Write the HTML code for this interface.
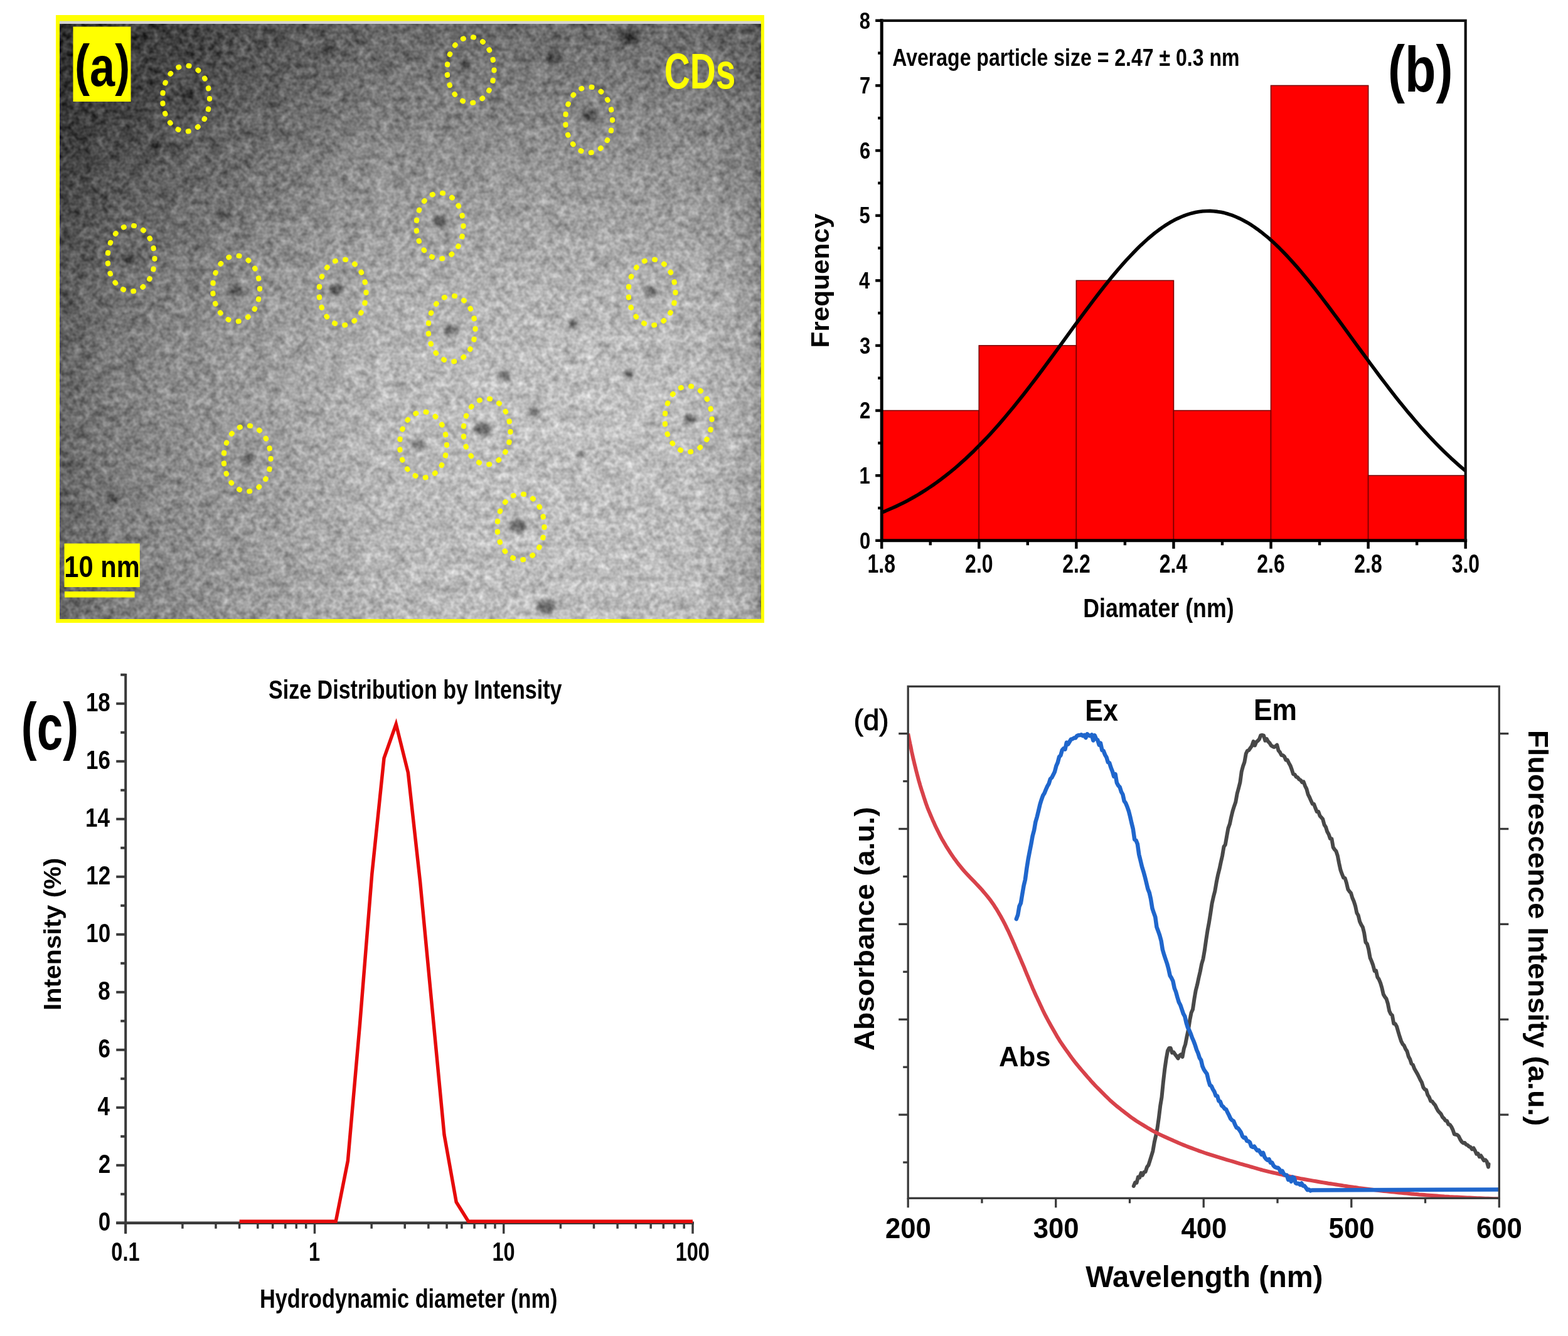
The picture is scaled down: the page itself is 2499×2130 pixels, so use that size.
<!DOCTYPE html>
<html lang="en">
<head>
<meta charset="utf-8">
<title>Characterization of CDs</title>
<style>
html,body{margin:0;padding:0;background:#fff;}
body{width:2499px;height:2130px;overflow:hidden;}
svg{display:block;font-family:"Liberation Sans",sans-serif;}
</style>
</head>
<body>
<svg width="2499" height="2130" viewBox="0 0 2499 2130">
<rect width="2499" height="2130" fill="#ffffff"/>
<defs>
<linearGradient id="tg1" x1="0" y1="0" x2="1" y2="0">
 <stop offset="0" stop-color="#646464"/>
 <stop offset="0.06" stop-color="#7c7c7c"/>
 <stop offset="0.14" stop-color="#8c8c8c"/>
 <stop offset="0.24" stop-color="#9c9c9c"/>
 <stop offset="0.32" stop-color="#a6a6a6"/>
 <stop offset="0.455" stop-color="#bcbcbc"/>
 <stop offset="0.56" stop-color="#c2c2c2"/>
 <stop offset="0.67" stop-color="#c5c5c5"/>
 <stop offset="0.78" stop-color="#c6c6c6"/>
 <stop offset="0.90" stop-color="#c2c2c2"/>
 <stop offset="0.985" stop-color="#aeaeae"/>
 <stop offset="1" stop-color="#949494"/>
</linearGradient>
<linearGradient id="tg3" x1="0" y1="0" x2="0" y2="1">
 <stop offset="0" stop-color="#000" stop-opacity="0.45"/>
 <stop offset="0.06" stop-color="#000" stop-opacity="0.39"/>
 <stop offset="0.15" stop-color="#000" stop-opacity="0.30"/>
 <stop offset="0.255" stop-color="#000" stop-opacity="0.21"/>
 <stop offset="0.45" stop-color="#000" stop-opacity="0.06"/>
 <stop offset="0.6" stop-color="#000" stop-opacity="0"/>
 <stop offset="1" stop-color="#000" stop-opacity="0.01"/>
</linearGradient>
<radialGradient id="tg4" gradientUnits="userSpaceOnUse" cx="0" cy="0" r="1" gradientTransform="translate(95,38) scale(520,540)">
 <stop offset="0" stop-color="#000" stop-opacity="0.27"/>
 <stop offset="0.35" stop-color="#000" stop-opacity="0.21"/>
 <stop offset="0.6" stop-color="#000" stop-opacity="0.10"/>
 <stop offset="1" stop-color="#000" stop-opacity="0"/>
</radialGradient>
<filter id="noise" x="0" y="0" width="100%" height="100%" color-interpolation-filters="sRGB">
 <feTurbulence type="fractalNoise" baseFrequency="0.11" numOctaves="2" seed="7" result="n1"/>
 <feColorMatrix in="n1" type="matrix" values="1 0 0 0 0  1 0 0 0 0  1 0 0 0 0  0 0 0 0 1" result="g1"/>
 <feTurbulence type="fractalNoise" baseFrequency="0.04" numOctaves="1" seed="11" result="n2"/>
 <feColorMatrix in="n2" type="matrix" values="1 0 0 0 0  1 0 0 0 0  1 0 0 0 0  0 0 0 0 1" result="g2"/>
 <feComposite in="g1" in2="g2" operator="arithmetic" k1="0" k2="0.85" k3="0.4" k4="-0.125" result="g"/>
 <feComposite in="SourceGraphic" in2="g" operator="arithmetic" k1="0" k2="0.97" k3="0.46" k4="-0.23"/>
</filter>
<filter id="blur3" x="-50%" y="-50%" width="200%" height="200%"><feGaussianBlur stdDeviation="3"/></filter>
<clipPath id="clipb"><rect x="1405" y="33" width="931" height="829"/></clipPath>
<clipPath id="clipd"><rect x="1447" y="1094" width="942.5" height="817"/></clipPath>
</defs>
<rect x="89" y="24" width="1129" height="969" fill="#ffff00"/>
<rect x="95" y="33.5" width="1117.5" height="5" fill="#d4d4d4"/>
<g filter="url(#noise)">
<rect x="95" y="38" width="1117.5" height="949" fill="url(#tg1)"/>
<rect x="95" y="38" width="1117.5" height="949" fill="url(#tg3)"/>
<rect x="95" y="38" width="1117.5" height="949" fill="url(#tg4)"/>
<g filter="url(#blur3)">
<ellipse cx="296" cy="150" rx="11.7" ry="9" fill="#000" fill-opacity="0.42"/>
<ellipse cx="742" cy="104" rx="9.1" ry="7" fill="#000" fill-opacity="0.42"/>
<ellipse cx="940" cy="186" rx="13" ry="10" fill="#000" fill-opacity="0.42"/>
<ellipse cx="703" cy="352" rx="11.7" ry="9" fill="#000" fill-opacity="0.42"/>
<ellipse cx="207" cy="413" rx="9.1" ry="7" fill="#000" fill-opacity="0.42"/>
<ellipse cx="376" cy="463" rx="11.7" ry="9" fill="#000" fill-opacity="0.42"/>
<ellipse cx="536" cy="462" rx="11.7" ry="9" fill="#000" fill-opacity="0.42"/>
<ellipse cx="718" cy="525" rx="11.7" ry="9" fill="#000" fill-opacity="0.42"/>
<ellipse cx="1037" cy="465" rx="10.4" ry="8" fill="#000" fill-opacity="0.42"/>
<ellipse cx="1100" cy="668" rx="10.4" ry="8" fill="#000" fill-opacity="0.42"/>
<ellipse cx="770" cy="684" rx="13" ry="10" fill="#000" fill-opacity="0.42"/>
<ellipse cx="667" cy="710" rx="10.4" ry="8" fill="#000" fill-opacity="0.42"/>
<ellipse cx="397" cy="731" rx="10.4" ry="8" fill="#000" fill-opacity="0.42"/>
<ellipse cx="825" cy="838" rx="14.3" ry="11" fill="#000" fill-opacity="0.42"/>
<ellipse cx="1003" cy="58" rx="15.6" ry="12" fill="#000" fill-opacity="0.42"/>
<ellipse cx="884" cy="92" rx="13" ry="10" fill="#000" fill-opacity="0.42"/>
<ellipse cx="360" cy="345" rx="10.4" ry="8" fill="#000" fill-opacity="0.42"/>
<ellipse cx="805" cy="600" rx="10.4" ry="8" fill="#000" fill-opacity="0.42"/>
<ellipse cx="852" cy="656" rx="10.4" ry="8" fill="#000" fill-opacity="0.42"/>
<ellipse cx="870" cy="967" rx="14.3" ry="11" fill="#000" fill-opacity="0.42"/>
<ellipse cx="1002" cy="596" rx="9.1" ry="7" fill="#000" fill-opacity="0.42"/>
<ellipse cx="925" cy="725" rx="6.5" ry="5" fill="#000" fill-opacity="0.42"/>
<ellipse cx="913" cy="516" rx="7.8" ry="6" fill="#000" fill-opacity="0.42"/>
<ellipse cx="178" cy="795" rx="10.4" ry="8" fill="#000" fill-opacity="0.42"/>
<ellipse cx="245" cy="232" rx="9.1" ry="7" fill="#000" fill-opacity="0.42"/>
<ellipse cx="520" cy="80" rx="9.1" ry="7" fill="#000" fill-opacity="0.42"/>
</g>
</g>
<ellipse cx="296.5" cy="157" rx="37.5" ry="52.5" fill="none" stroke="#ffff00" stroke-width="8.2" stroke-linecap="round" pathLength="170" stroke-dasharray="0.5 9.5"/>
<ellipse cx="750" cy="111.5" rx="37.5" ry="52.5" fill="none" stroke="#ffff00" stroke-width="8.2" stroke-linecap="round" pathLength="170" stroke-dasharray="0.5 9.5"/>
<ellipse cx="938.5" cy="191" rx="37.5" ry="52.5" fill="none" stroke="#ffff00" stroke-width="8.2" stroke-linecap="round" pathLength="170" stroke-dasharray="0.5 9.5"/>
<ellipse cx="701" cy="360" rx="37.5" ry="52.5" fill="none" stroke="#ffff00" stroke-width="8.2" stroke-linecap="round" pathLength="170" stroke-dasharray="0.5 9.5"/>
<ellipse cx="209" cy="412" rx="37.5" ry="52.5" fill="none" stroke="#ffff00" stroke-width="8.2" stroke-linecap="round" pathLength="170" stroke-dasharray="0.5 9.5"/>
<ellipse cx="376.5" cy="460" rx="37.5" ry="52.5" fill="none" stroke="#ffff00" stroke-width="8.2" stroke-linecap="round" pathLength="170" stroke-dasharray="0.5 9.5"/>
<ellipse cx="546" cy="466" rx="37.5" ry="52.5" fill="none" stroke="#ffff00" stroke-width="8.2" stroke-linecap="round" pathLength="170" stroke-dasharray="0.5 9.5"/>
<ellipse cx="720" cy="524" rx="37.5" ry="52.5" fill="none" stroke="#ffff00" stroke-width="8.2" stroke-linecap="round" pathLength="170" stroke-dasharray="0.5 9.5"/>
<ellipse cx="1039" cy="466" rx="37.5" ry="52.5" fill="none" stroke="#ffff00" stroke-width="8.2" stroke-linecap="round" pathLength="170" stroke-dasharray="0.5 9.5"/>
<ellipse cx="1097" cy="668" rx="37.5" ry="52.5" fill="none" stroke="#ffff00" stroke-width="8.2" stroke-linecap="round" pathLength="170" stroke-dasharray="0.5 9.5"/>
<ellipse cx="776" cy="688" rx="37.5" ry="52.5" fill="none" stroke="#ffff00" stroke-width="8.2" stroke-linecap="round" pathLength="170" stroke-dasharray="0.5 9.5"/>
<ellipse cx="674.5" cy="709" rx="37.5" ry="52.5" fill="none" stroke="#ffff00" stroke-width="8.2" stroke-linecap="round" pathLength="170" stroke-dasharray="0.5 9.5"/>
<ellipse cx="394" cy="731" rx="37.5" ry="52.5" fill="none" stroke="#ffff00" stroke-width="8.2" stroke-linecap="round" pathLength="170" stroke-dasharray="0.5 9.5"/>
<ellipse cx="830" cy="840" rx="37.5" ry="52.5" fill="none" stroke="#ffff00" stroke-width="8.2" stroke-linecap="round" pathLength="170" stroke-dasharray="0.5 9.5"/>
<rect x="116.5" y="42.5" width="92" height="119.5" fill="#ffff00"/>
<text transform="matrix(0.7209 0.0000 0.0000 0.8984 119.0956 133.6337)" font-size="100" font-weight="bold" fill="#000">(<tspan dy="3.6">a</tspan><tspan dy="-3.6">)</tspan></text>
<text transform="matrix(0.5677 0.0000 0.0000 0.8028 1058.7292 141.1972)" font-size="100" font-weight="bold" fill="#ffff00">CDs</text>
<rect x="102.5" y="866.5" width="120.3" height="69.5" fill="#ffff00"/>
<text transform="matrix(0.4166 0.0000 0.0000 0.4901 102.3004 920.2099)" font-size="100" font-weight="bold" fill="#000">10 nm</text>
<rect x="103" y="943" width="111.5" height="9.5" fill="#ffff00"/>
<rect x="1405.20" y="654.55" width="155.08" height="207.25" fill="#ff0000" stroke="#7a0000" stroke-width="1.6"/>
<rect x="1560.28" y="550.92" width="155.08" height="310.88" fill="#ff0000" stroke="#7a0000" stroke-width="1.6"/>
<rect x="1715.37" y="447.30" width="155.08" height="414.50" fill="#ff0000" stroke="#7a0000" stroke-width="1.6"/>
<rect x="1870.45" y="654.55" width="155.08" height="207.25" fill="#ff0000" stroke="#7a0000" stroke-width="1.6"/>
<rect x="2025.53" y="136.42" width="155.08" height="725.38" fill="#ff0000" stroke="#7a0000" stroke-width="1.6"/>
<rect x="2180.62" y="758.17" width="155.08" height="103.62" fill="#ff0000" stroke="#7a0000" stroke-width="1.6"/>
<polyline points="1405.2,817.1 1411.0,814.8 1416.8,812.3 1422.6,809.8 1428.5,807.1 1434.3,804.3 1440.1,801.4 1445.9,798.4 1451.7,795.3 1457.5,792.0 1463.4,788.6 1469.2,785.0 1475.0,781.3 1480.8,777.5 1486.6,773.6 1492.4,769.5 1498.2,765.2 1504.1,760.8 1509.9,756.3 1515.7,751.6 1521.5,746.8 1527.3,741.8 1533.1,736.6 1539.0,731.4 1544.8,725.9 1550.6,720.4 1556.4,714.6 1562.2,708.8 1568.0,702.7 1573.9,696.6 1579.7,690.3 1585.5,683.9 1591.3,677.3 1597.1,670.6 1602.9,663.8 1608.7,656.8 1614.6,649.8 1620.4,642.6 1626.2,635.3 1632.0,627.9 1637.8,620.5 1643.6,612.9 1649.5,605.3 1655.3,597.5 1661.1,589.8 1666.9,581.9 1672.7,574.0 1678.5,566.1 1684.4,558.1 1690.2,550.2 1696.0,542.2 1701.8,534.2 1707.6,526.2 1713.4,518.2 1719.2,510.3 1725.1,502.4 1730.9,494.6 1736.7,486.8 1742.5,479.1 1748.3,471.5 1754.1,464.0 1760.0,456.5 1765.8,449.3 1771.6,442.1 1777.4,435.1 1783.2,428.3 1789.0,421.6 1794.8,415.1 1800.7,408.8 1806.5,402.7 1812.3,396.8 1818.1,391.1 1823.9,385.7 1829.7,380.5 1835.6,375.5 1841.4,370.8 1847.2,366.4 1853.0,362.3 1858.8,358.4 1864.6,354.8 1870.4,351.6 1876.3,348.6 1882.1,346.0 1887.9,343.6 1893.7,341.6 1899.5,339.9 1905.3,338.6 1911.2,337.5 1917.0,336.8 1922.8,336.5 1928.6,336.4 1934.4,336.7 1940.2,337.4 1946.1,338.3 1951.9,339.6 1957.7,341.3 1963.5,343.2 1969.3,345.5 1975.1,348.1 1980.9,351.0 1986.8,354.2 1992.6,357.7 1998.4,361.5 2004.2,365.6 2010.0,369.9 2015.8,374.6 2021.7,379.4 2027.5,384.6 2033.3,390.0 2039.1,395.6 2044.9,401.5 2050.7,407.5 2056.6,413.8 2062.4,420.3 2068.2,426.9 2074.0,433.7 2079.8,440.7 2085.6,447.8 2091.4,455.1 2097.3,462.5 2103.1,470.0 2108.9,477.6 2114.7,485.2 2120.5,493.0 2126.3,500.8 2132.2,508.7 2138.0,516.6 2143.8,524.6 2149.6,532.6 2155.4,540.6 2161.2,548.6 2167.0,556.5 2172.9,564.5 2178.7,572.4 2184.5,580.3 2190.3,588.2 2196.1,596.0 2201.9,603.7 2207.8,611.4 2213.6,619.0 2219.4,626.5 2225.2,633.9 2231.0,641.2 2236.8,648.3 2242.6,655.4 2248.5,662.4 2254.3,669.2 2260.1,676.0 2265.9,682.6 2271.7,689.0 2277.5,695.3 2283.4,701.5 2289.2,707.6 2295.0,713.5 2300.8,719.2 2306.6,724.8 2312.4,730.3 2318.3,735.6 2324.1,740.8 2329.9,745.8 2335.7,750.6" fill="none" stroke="#000" stroke-width="5.6" stroke-linejoin="round" clip-path="url(#clipb)"/>
<polyline points="1405.20,32.80 1405.20,861.80 2335.70,861.80" fill="none" stroke="#000" stroke-width="5" stroke-linecap="square"/>
<polyline points="1405.20,32.80 2335.70,32.80 2335.70,861.80" fill="none" stroke="#111" stroke-width="4.2" stroke-linecap="square"/>
<line x1="1395.2" x2="1405.2" y1="861.80" y2="861.80" stroke="#000" stroke-width="4.4"/>
<line x1="1399.2" x2="1405.2" y1="809.99" y2="809.99" stroke="#000" stroke-width="4.4"/>
<text transform="matrix(0.3100 0.0000 0.0000 0.3720 1370.0350 874.6400)" font-size="100" font-weight="bold" fill="#000">0</text>
<line x1="1395.2" x2="1405.2" y1="758.17" y2="758.17" stroke="#000" stroke-width="4.4"/>
<line x1="1399.2" x2="1405.2" y1="706.36" y2="706.36" stroke="#000" stroke-width="4.4"/>
<text transform="matrix(0.3100 0.0000 0.0000 0.3720 1369.5700 770.6430)" font-size="100" font-weight="bold" fill="#000">1</text>
<line x1="1395.2" x2="1405.2" y1="654.55" y2="654.55" stroke="#000" stroke-width="4.4"/>
<line x1="1399.2" x2="1405.2" y1="602.74" y2="602.74" stroke="#000" stroke-width="4.4"/>
<text transform="matrix(0.3100 0.0000 0.0000 0.3720 1370.0350 667.3900)" font-size="100" font-weight="bold" fill="#000">2</text>
<line x1="1395.2" x2="1405.2" y1="550.92" y2="550.92" stroke="#000" stroke-width="4.4"/>
<line x1="1399.2" x2="1405.2" y1="499.11" y2="499.11" stroke="#000" stroke-width="4.4"/>
<text transform="matrix(0.3100 0.0000 0.0000 0.3720 1369.8800 563.7650)" font-size="100" font-weight="bold" fill="#000">3</text>
<line x1="1395.2" x2="1405.2" y1="447.30" y2="447.30" stroke="#000" stroke-width="4.4"/>
<line x1="1399.2" x2="1405.2" y1="395.49" y2="395.49" stroke="#000" stroke-width="4.4"/>
<text transform="matrix(0.3100 0.0000 0.0000 0.3720 1368.9500 459.7680)" font-size="100" font-weight="bold" fill="#000">4</text>
<line x1="1395.2" x2="1405.2" y1="343.67" y2="343.67" stroke="#000" stroke-width="4.4"/>
<line x1="1399.2" x2="1405.2" y1="291.86" y2="291.86" stroke="#000" stroke-width="4.4"/>
<text transform="matrix(0.3100 0.0000 0.0000 0.3720 1369.5700 356.1430)" font-size="100" font-weight="bold" fill="#000">5</text>
<line x1="1395.2" x2="1405.2" y1="240.05" y2="240.05" stroke="#000" stroke-width="4.4"/>
<line x1="1399.2" x2="1405.2" y1="188.24" y2="188.24" stroke="#000" stroke-width="4.4"/>
<text transform="matrix(0.3100 0.0000 0.0000 0.3720 1369.8800 252.8900)" font-size="100" font-weight="bold" fill="#000">6</text>
<line x1="1395.2" x2="1405.2" y1="136.42" y2="136.42" stroke="#000" stroke-width="4.4"/>
<line x1="1399.2" x2="1405.2" y1="84.61" y2="84.61" stroke="#000" stroke-width="4.4"/>
<text transform="matrix(0.3100 0.0000 0.0000 0.3720 1370.0350 148.8930)" font-size="100" font-weight="bold" fill="#000">7</text>
<line x1="1395.2" x2="1405.2" y1="32.80" y2="32.80" stroke="#000" stroke-width="4.4"/>
<text transform="matrix(0.3100 0.0000 0.0000 0.3720 1369.7250 45.6400)" font-size="100" font-weight="bold" fill="#000">8</text>
<line y1="861.8" y2="874.8" x1="1405.20" x2="1405.20" stroke="#000" stroke-width="4.4"/>
<line y1="861.8" y2="869.3" x1="1482.74" x2="1482.74" stroke="#000" stroke-width="4.4"/>
<text transform="matrix(0.3200 0.0000 0.0000 0.4210 1382.4800 912.9700)" font-size="100" font-weight="bold" fill="#000">1.8</text>
<line y1="861.8" y2="874.8" x1="1560.28" x2="1560.28" stroke="#000" stroke-width="4.4"/>
<line y1="861.8" y2="869.3" x1="1637.83" x2="1637.83" stroke="#000" stroke-width="4.4"/>
<text transform="matrix(0.3200 0.0000 0.0000 0.4210 1538.1233 912.9700)" font-size="100" font-weight="bold" fill="#000">2.0</text>
<line y1="861.8" y2="874.8" x1="1715.37" x2="1715.37" stroke="#000" stroke-width="4.4"/>
<line y1="861.8" y2="869.3" x1="1792.91" x2="1792.91" stroke="#000" stroke-width="4.4"/>
<text transform="matrix(0.3200 0.0000 0.0000 0.4210 1693.2067 912.9700)" font-size="100" font-weight="bold" fill="#000">2.2</text>
<line y1="861.8" y2="874.8" x1="1870.45" x2="1870.45" stroke="#000" stroke-width="4.4"/>
<line y1="861.8" y2="869.3" x1="1947.99" x2="1947.99" stroke="#000" stroke-width="4.4"/>
<text transform="matrix(0.3200 0.0000 0.0000 0.4210 1847.7300 912.9700)" font-size="100" font-weight="bold" fill="#000">2.4</text>
<line y1="861.8" y2="874.8" x1="2025.53" x2="2025.53" stroke="#000" stroke-width="4.4"/>
<line y1="861.8" y2="869.3" x1="2103.07" x2="2103.07" stroke="#000" stroke-width="4.4"/>
<text transform="matrix(0.3200 0.0000 0.0000 0.4210 2003.2933 912.9700)" font-size="100" font-weight="bold" fill="#000">2.6</text>
<line y1="861.8" y2="874.8" x1="2180.62" x2="2180.62" stroke="#000" stroke-width="4.4"/>
<line y1="861.8" y2="869.3" x1="2258.16" x2="2258.16" stroke="#000" stroke-width="4.4"/>
<text transform="matrix(0.3200 0.0000 0.0000 0.4210 2158.2967 912.9700)" font-size="100" font-weight="bold" fill="#000">2.8</text>
<line y1="861.8" y2="874.8" x1="2335.70" x2="2335.70" stroke="#000" stroke-width="4.4"/>
<text transform="matrix(0.3200 0.0000 0.0000 0.4210 2313.7000 912.9700)" font-size="100" font-weight="bold" fill="#000">3.0</text>
<text transform="matrix(0.3205 0.0000 0.0000 0.3904 1422.1989 104.8021)" font-size="100" font-weight="bold" fill="#000">Average particle size = 2.47 ± 0.3 nm</text>
<text transform="matrix(0.8102 0.0000 0.0000 1.0214 2211.9492 143.5508)" font-size="100" font-weight="bold" fill="#000">(<tspan dy="2.6">b</tspan><tspan dy="-2.6">)</tspan></text>
<text transform="matrix(0.0000 -0.4233 0.4000 0.0000 1320.6000 554.5513)" font-size="100" font-weight="bold" fill="#000">Frequency</text>
<text transform="matrix(0.3578 0.0000 0.0000 0.4332 1726.1744 984.4037)" font-size="100" font-weight="bold" fill="#000">Diamater (nm)</text>
<line x1="200.2" x2="200.2" y1="1074.0" y2="1966.8" stroke="#3a3a3a" stroke-width="4"/>
<line x1="185.2" x2="1106.0" y1="1949.8" y2="1949.8" stroke="#3a3a3a" stroke-width="4.5"/>
<line x1="185.2" x2="200.2" y1="1949.80" y2="1949.80" stroke="#3a3a3a" stroke-width="4"/>
<text transform="matrix(0.3500 0.0000 0.0000 0.4180 156.6750 1962.0600)" font-size="100" font-weight="bold" fill="#000">0</text>
<line x1="192.2" x2="200.2" y1="1903.80" y2="1903.80" stroke="#3a3a3a" stroke-width="4"/>
<line x1="185.2" x2="200.2" y1="1857.80" y2="1857.80" stroke="#3a3a3a" stroke-width="4"/>
<text transform="matrix(0.3500 0.0000 0.0000 0.4180 156.6750 1870.0600)" font-size="100" font-weight="bold" fill="#000">2</text>
<line x1="192.2" x2="200.2" y1="1811.80" y2="1811.80" stroke="#3a3a3a" stroke-width="4"/>
<line x1="185.2" x2="200.2" y1="1765.80" y2="1765.80" stroke="#3a3a3a" stroke-width="4"/>
<text transform="matrix(0.3500 0.0000 0.0000 0.4180 155.4500 1777.6420)" font-size="100" font-weight="bold" fill="#000">4</text>
<line x1="192.2" x2="200.2" y1="1719.80" y2="1719.80" stroke="#3a3a3a" stroke-width="4"/>
<line x1="185.2" x2="200.2" y1="1673.80" y2="1673.80" stroke="#3a3a3a" stroke-width="4"/>
<text transform="matrix(0.3500 0.0000 0.0000 0.4180 156.5000 1686.0600)" font-size="100" font-weight="bold" fill="#000">6</text>
<line x1="192.2" x2="200.2" y1="1627.80" y2="1627.80" stroke="#3a3a3a" stroke-width="4"/>
<line x1="185.2" x2="200.2" y1="1581.80" y2="1581.80" stroke="#3a3a3a" stroke-width="4"/>
<text transform="matrix(0.3500 0.0000 0.0000 0.4180 156.3250 1594.0600)" font-size="100" font-weight="bold" fill="#000">8</text>
<line x1="192.2" x2="200.2" y1="1535.80" y2="1535.80" stroke="#3a3a3a" stroke-width="4"/>
<line x1="185.2" x2="200.2" y1="1489.80" y2="1489.80" stroke="#3a3a3a" stroke-width="4"/>
<text transform="matrix(0.3500 0.0000 0.0000 0.4180 137.2500 1502.0600)" font-size="100" font-weight="bold" fill="#000">10</text>
<line x1="192.2" x2="200.2" y1="1443.80" y2="1443.80" stroke="#3a3a3a" stroke-width="4"/>
<line x1="185.2" x2="200.2" y1="1397.80" y2="1397.80" stroke="#3a3a3a" stroke-width="4"/>
<text transform="matrix(0.3500 0.0000 0.0000 0.4180 137.2500 1410.0600)" font-size="100" font-weight="bold" fill="#000">12</text>
<line x1="192.2" x2="200.2" y1="1351.80" y2="1351.80" stroke="#3a3a3a" stroke-width="4"/>
<line x1="185.2" x2="200.2" y1="1305.80" y2="1305.80" stroke="#3a3a3a" stroke-width="4"/>
<text transform="matrix(0.3500 0.0000 0.0000 0.4180 136.0250 1317.6420)" font-size="100" font-weight="bold" fill="#000">14</text>
<line x1="192.2" x2="200.2" y1="1259.80" y2="1259.80" stroke="#3a3a3a" stroke-width="4"/>
<line x1="185.2" x2="200.2" y1="1213.80" y2="1213.80" stroke="#3a3a3a" stroke-width="4"/>
<text transform="matrix(0.3500 0.0000 0.0000 0.4180 137.0750 1226.0600)" font-size="100" font-weight="bold" fill="#000">16</text>
<line x1="192.2" x2="200.2" y1="1167.80" y2="1167.80" stroke="#3a3a3a" stroke-width="4"/>
<line x1="185.2" x2="200.2" y1="1121.80" y2="1121.80" stroke="#3a3a3a" stroke-width="4"/>
<text transform="matrix(0.3500 0.0000 0.0000 0.4180 136.9000 1134.0600)" font-size="100" font-weight="bold" fill="#000">18</text>
<line x1="192.2" x2="200.2" y1="1075.80" y2="1075.80" stroke="#3a3a3a" stroke-width="4"/>
<line y1="1949.8" y2="1966.8" x1="200.20" x2="200.20" stroke="#3a3a3a" stroke-width="3.5"/>
<line y1="1949.8" y2="1958.8" x1="290.89" x2="290.89" stroke="#3a3a3a" stroke-width="3.5"/>
<line y1="1949.8" y2="1958.8" x1="343.94" x2="343.94" stroke="#3a3a3a" stroke-width="3.5"/>
<line y1="1949.8" y2="1958.8" x1="381.58" x2="381.58" stroke="#3a3a3a" stroke-width="3.5"/>
<line y1="1949.8" y2="1958.8" x1="410.78" x2="410.78" stroke="#3a3a3a" stroke-width="3.5"/>
<line y1="1949.8" y2="1958.8" x1="434.63" x2="434.63" stroke="#3a3a3a" stroke-width="3.5"/>
<line y1="1949.8" y2="1958.8" x1="454.80" x2="454.80" stroke="#3a3a3a" stroke-width="3.5"/>
<line y1="1949.8" y2="1958.8" x1="472.27" x2="472.27" stroke="#3a3a3a" stroke-width="3.5"/>
<line y1="1949.8" y2="1958.8" x1="487.68" x2="487.68" stroke="#3a3a3a" stroke-width="3.5"/>
<line y1="1949.8" y2="1966.8" x1="501.47" x2="501.47" stroke="#3a3a3a" stroke-width="3.5"/>
<line y1="1949.8" y2="1958.8" x1="592.16" x2="592.16" stroke="#3a3a3a" stroke-width="3.5"/>
<line y1="1949.8" y2="1958.8" x1="645.21" x2="645.21" stroke="#3a3a3a" stroke-width="3.5"/>
<line y1="1949.8" y2="1958.8" x1="682.85" x2="682.85" stroke="#3a3a3a" stroke-width="3.5"/>
<line y1="1949.8" y2="1958.8" x1="712.05" x2="712.05" stroke="#3a3a3a" stroke-width="3.5"/>
<line y1="1949.8" y2="1958.8" x1="735.90" x2="735.90" stroke="#3a3a3a" stroke-width="3.5"/>
<line y1="1949.8" y2="1958.8" x1="756.07" x2="756.07" stroke="#3a3a3a" stroke-width="3.5"/>
<line y1="1949.8" y2="1958.8" x1="773.54" x2="773.54" stroke="#3a3a3a" stroke-width="3.5"/>
<line y1="1949.8" y2="1958.8" x1="788.95" x2="788.95" stroke="#3a3a3a" stroke-width="3.5"/>
<line y1="1949.8" y2="1966.8" x1="802.74" x2="802.74" stroke="#3a3a3a" stroke-width="3.5"/>
<line y1="1949.8" y2="1958.8" x1="893.43" x2="893.43" stroke="#3a3a3a" stroke-width="3.5"/>
<line y1="1949.8" y2="1958.8" x1="946.48" x2="946.48" stroke="#3a3a3a" stroke-width="3.5"/>
<line y1="1949.8" y2="1958.8" x1="984.12" x2="984.12" stroke="#3a3a3a" stroke-width="3.5"/>
<line y1="1949.8" y2="1958.8" x1="1013.32" x2="1013.32" stroke="#3a3a3a" stroke-width="3.5"/>
<line y1="1949.8" y2="1958.8" x1="1037.17" x2="1037.17" stroke="#3a3a3a" stroke-width="3.5"/>
<line y1="1949.8" y2="1958.8" x1="1057.34" x2="1057.34" stroke="#3a3a3a" stroke-width="3.5"/>
<line y1="1949.8" y2="1958.8" x1="1074.81" x2="1074.81" stroke="#3a3a3a" stroke-width="3.5"/>
<line y1="1949.8" y2="1958.8" x1="1090.22" x2="1090.22" stroke="#3a3a3a" stroke-width="3.5"/>
<line y1="1949.8" y2="1966.8" x1="1104.01" x2="1104.01" stroke="#3a3a3a" stroke-width="3.5"/>
<text transform="matrix(0.3250 0.0000 0.0000 0.4200 177.3687 2010.4000)" font-size="100" font-weight="bold" fill="#000">0.1</text>
<text transform="matrix(0.3250 0.0000 0.0000 0.4200 491.8825 2009.9800)" font-size="100" font-weight="bold" fill="#000">1</text>
<text transform="matrix(0.3250 0.0000 0.0000 0.4200 784.3775 2010.4000)" font-size="100" font-weight="bold" fill="#000">10</text>
<text transform="matrix(0.3250 0.0000 0.0000 0.4200 1076.6287 2010.4000)" font-size="100" font-weight="bold" fill="#000">100</text>
<polyline points="381.6,1947.2 400.8,1947.2 420.0,1947.2 439.2,1947.2 458.4,1947.2 477.6,1947.2 496.8,1947.2 515.9,1947.2 535.2,1947.2 554.4,1850.6 573.6,1632.1 592.8,1393.4 612.0,1208.9 631.2,1154.6 650.4,1231.9 669.6,1405.8 688.8,1607.7 708.0,1809.2 727.2,1916.4 746.4,1947.2 765.6,1947.2 784.8,1947.2 804.0,1947.2 1104.0,1947.2" fill="none" stroke="#e60a0a" stroke-width="5.5" stroke-linejoin="miter"/>
<text transform="matrix(0.7467 0.0000 0.0000 1.0118 33.8667 1191.8529)" font-size="100" font-weight="bold" fill="#000">(<tspan dy="3.6">c</tspan><tspan dy="-3.6">)</tspan></text>
<text transform="matrix(0.3408 0.0000 0.0000 0.4182 427.9777 1113.5182)" font-size="100" font-weight="bold" fill="#000">Size Distribution by Intensity</text>
<text transform="matrix(0.3429 0.0000 0.0000 0.4182 413.9713 2084.9182)" font-size="100" font-weight="bold" fill="#000">Hydrodynamic diameter (nm)</text>
<text transform="matrix(0.0000 -0.4093 0.3807 0.0000 96.5043 1610.9602)" font-size="100" font-weight="bold" fill="#000">Intensity (%)</text>
<g clip-path="url(#clipd)">
<polyline points="1806.8,1890.9 1809.2,1885.3 1811.5,1885.7 1813.9,1876.5 1816.2,1877.5 1818.6,1870.1 1820.9,1873.7 1823.3,1868.9 1825.6,1868.1 1828.0,1860.7 1830.4,1857.6 1832.7,1850.3 1835.1,1842.6 1837.4,1835.1 1839.8,1821.0 1842.1,1810.8 1844.5,1798.9 1846.8,1782.6 1849.2,1763.1 1851.5,1749.2 1853.9,1725.3 1856.3,1704.5 1858.6,1688.5 1861.0,1675.2 1863.3,1671.0 1865.7,1671.1 1868.0,1678.4 1870.4,1677.6 1872.7,1680.8 1875.1,1683.8 1877.5,1687.4 1879.8,1682.9 1882.2,1681.1 1884.5,1684.9 1886.9,1671.7 1889.2,1664.9 1891.6,1652.4 1893.9,1641.9 1896.3,1626.2 1898.6,1614.6 1901.0,1609.2 1903.4,1592.7 1905.7,1579.3 1908.1,1570.1 1910.4,1559.1 1912.8,1548.9 1915.1,1537.0 1917.5,1528.8 1919.8,1515.6 1922.2,1498.7 1924.6,1483.1 1926.9,1470.9 1929.3,1455.8 1931.6,1440.3 1934.0,1429.6 1936.3,1420.8 1938.7,1406.7 1941.0,1395.3 1943.4,1385.8 1945.7,1374.8 1948.1,1364.3 1950.5,1349.9 1952.8,1346.8 1955.2,1333.1 1957.5,1320.4 1959.9,1313.8 1962.2,1302.9 1964.6,1293.0 1966.9,1285.7 1969.3,1278.7 1971.7,1265.3 1974.0,1256.8 1976.4,1247.3 1978.7,1230.3 1981.1,1221.4 1983.4,1215.1 1985.8,1201.5 1988.1,1196.9 1990.5,1195.9 1992.8,1192.5 1995.2,1189.3 1997.6,1182.1 1999.9,1188.5 2002.3,1182.8 2004.6,1181.1 2007.0,1178.5 2009.3,1172.4 2011.7,1172.0 2014.0,1172.7 2016.4,1180.8 2018.8,1178.1 2021.1,1182.2 2023.5,1184.7 2025.8,1188.4 2028.2,1190.0 2030.5,1191.2 2032.9,1189.8 2035.2,1187.8 2037.6,1196.6 2039.9,1199.3 2042.3,1204.0 2044.7,1204.2 2047.0,1206.2 2049.4,1211.7 2051.7,1211.5 2054.1,1216.4 2056.4,1220.4 2058.8,1226.9 2061.1,1234.2 2063.5,1234.9 2065.9,1238.6 2068.2,1239.6 2070.6,1242.5 2072.9,1243.8 2075.3,1247.2 2077.6,1246.4 2080.0,1253.1 2082.3,1257.6 2084.7,1266.6 2087.0,1271.0 2089.4,1276.6 2091.8,1281.8 2094.1,1282.0 2096.5,1288.5 2098.8,1294.1 2101.2,1294.1 2103.5,1300.6 2105.9,1303.2 2108.2,1305.9 2110.6,1315.0 2113.0,1318.7 2115.3,1326.1 2117.7,1330.3 2120.0,1337.0 2122.4,1337.2 2124.7,1350.8 2127.1,1354.5 2129.4,1357.0 2131.8,1364.2 2134.1,1376.1 2136.5,1387.1 2138.9,1393.7 2141.2,1399.3 2143.6,1400.1 2145.9,1407.3 2148.3,1417.7 2150.6,1421.1 2153.0,1423.7 2155.3,1431.5 2157.7,1437.0 2160.1,1444.5 2162.4,1455.5 2164.8,1459.6 2167.1,1469.3 2169.5,1474.4 2171.8,1478.1 2174.2,1487.6 2176.5,1502.2 2178.9,1505.0 2181.2,1513.4 2183.6,1527.0 2186.0,1532.6 2188.3,1538.9 2190.7,1548.0 2193.0,1547.5 2195.4,1558.1 2197.7,1561.3 2200.1,1567.1 2202.4,1574.8 2204.8,1585.4 2207.2,1589.4 2209.5,1592.4 2211.9,1600.1 2214.2,1611.7 2216.6,1616.8 2218.9,1618.7 2221.3,1632.0 2223.6,1632.2 2226.0,1636.4 2228.3,1644.5 2230.7,1652.5 2233.1,1659.8 2235.4,1664.4 2237.8,1667.1 2240.1,1672.3 2242.5,1676.0 2244.8,1684.3 2247.2,1688.7 2249.5,1695.8 2251.9,1697.8 2254.3,1704.1 2256.6,1708.1 2259.0,1712.1 2261.3,1716.8 2263.7,1721.8 2266.0,1725.8 2268.4,1733.6 2270.7,1736.7 2273.1,1737.8 2275.4,1745.6 2277.8,1749.2 2280.2,1755.5 2282.5,1755.9 2284.9,1759.4 2287.2,1761.8 2289.6,1766.9 2291.9,1771.0 2294.3,1773.7 2296.6,1776.1 2299.0,1781.0 2301.4,1783.2 2303.7,1786.6 2306.1,1787.2 2308.4,1792.5 2310.8,1793.1 2313.1,1796.4 2315.5,1801.4 2317.8,1808.2 2320.2,1808.7 2322.5,1809.4 2324.9,1811.7 2327.3,1816.8 2329.6,1820.2 2332.0,1822.4 2334.3,1821.9 2336.7,1824.8 2339.0,1825.8 2341.4,1828.0 2343.7,1828.9 2346.1,1832.2 2348.5,1830.4 2350.8,1834.4 2353.2,1839.8 2355.5,1839.1 2357.9,1844.2 2360.2,1842.5 2362.6,1846.4 2364.9,1850.1 2367.3,1849.2 2369.6,1851.9 2372.0,1860.5 2372.5,1855.9" fill="none" stroke="#484848" stroke-width="6" stroke-linejoin="round" stroke-linecap="round"/>
<polyline points="1447.2,1169.6 1448.0,1173.6 1448.8,1177.6 1449.6,1181.7 1450.4,1185.7 1451.3,1189.7 1452.1,1193.7 1452.9,1197.8 1453.8,1201.9 1454.7,1206.0 1455.7,1210.2 1456.7,1214.4 1457.7,1218.7 1458.8,1223.0 1459.8,1227.2 1460.9,1231.5 1462.0,1235.8 1463.1,1239.9 1464.2,1244.1 1465.4,1248.1 1466.5,1252.1 1467.7,1256.0 1468.9,1259.8 1470.2,1263.7 1471.4,1267.6 1472.6,1271.4 1473.9,1275.3 1475.2,1279.2 1476.6,1283.2 1478.1,1287.3 1479.7,1291.3 1481.4,1295.4 1483.1,1299.5 1484.9,1303.6 1486.6,1307.7 1488.4,1311.6 1490.1,1315.4 1491.9,1319.2 1493.7,1322.8 1495.5,1326.5 1497.3,1330.1 1499.2,1333.8 1501.1,1337.4 1503.2,1341.1 1505.4,1344.8 1507.6,1348.6 1510.0,1352.4 1512.4,1356.1 1514.8,1359.9 1517.3,1363.6 1519.9,1367.4 1522.6,1371.1 1525.3,1374.7 1528.1,1378.3 1531.0,1381.9 1533.9,1385.5 1536.9,1389.0 1540.1,1392.5 1543.3,1395.9 1546.6,1399.3 1549.8,1402.6 1553.0,1405.9 1556.1,1409.2 1559.1,1412.4 1562.1,1415.6 1565.0,1418.8 1567.9,1422.2 1570.8,1425.6 1573.7,1429.1 1576.5,1432.7 1579.2,1436.2 1581.7,1439.8 1584.2,1443.3 1586.4,1446.8 1588.6,1450.2 1590.7,1453.7 1592.7,1457.2 1594.8,1460.8 1596.8,1464.5 1598.9,1468.3 1600.9,1472.2 1602.9,1476.1 1604.8,1480.1 1606.8,1484.1 1608.6,1488.0 1610.4,1491.9 1612.1,1495.7 1613.8,1499.5 1615.4,1503.3 1617.1,1507.1 1618.7,1511.0 1620.4,1514.9 1622.1,1518.9 1623.8,1522.8 1625.5,1526.7 1627.2,1530.7 1628.8,1534.6 1630.5,1538.4 1632.1,1542.2 1633.6,1546.0 1635.2,1549.8 1636.7,1553.5 1638.3,1557.2 1639.8,1561.0 1641.4,1564.7 1642.9,1568.4 1644.5,1572.1 1646.0,1575.9 1647.7,1579.6 1649.3,1583.3 1651.0,1587.1 1652.8,1590.8 1654.5,1594.5 1656.3,1598.3 1658.0,1602.0 1659.8,1605.8 1661.5,1609.5 1663.3,1613.2 1665.1,1616.9 1667.0,1620.5 1668.9,1624.1 1670.8,1627.7 1672.8,1631.2 1674.7,1634.7 1676.7,1638.2 1678.7,1641.8 1680.7,1645.3 1682.7,1648.8 1684.7,1652.3 1686.8,1655.7 1688.9,1659.2 1691.2,1662.6 1693.5,1666.0 1695.9,1669.4 1698.2,1672.8 1700.7,1676.2 1703.1,1679.6 1705.5,1682.9 1707.9,1686.3 1710.4,1689.6 1712.9,1692.9 1715.4,1696.0 1718.0,1699.2 1720.6,1702.3 1723.2,1705.4 1725.8,1708.4 1728.5,1711.5 1731.1,1714.5 1733.7,1717.6 1736.4,1720.6 1739.1,1723.7 1741.8,1726.6 1744.5,1729.6 1747.3,1732.5 1750.2,1735.4 1753.0,1738.2 1755.9,1741.1 1758.7,1743.9 1761.6,1746.8 1764.5,1749.6 1767.4,1752.5 1770.3,1755.3 1773.4,1758.0 1776.6,1760.8 1779.8,1763.5 1783.2,1766.1 1786.5,1768.8 1789.9,1771.4 1793.3,1774.1 1796.7,1776.7 1800.1,1779.3 1803.5,1781.9 1807.0,1784.3 1810.5,1786.7 1814.1,1789.0 1817.7,1791.2 1821.3,1793.4 1824.9,1795.6 1828.5,1797.8 1832.2,1799.9 1835.8,1802.1 1839.5,1804.2 1843.3,1806.2 1847.1,1808.1 1850.9,1809.9 1854.9,1811.7 1858.8,1813.5 1862.7,1815.3 1866.7,1817.0 1870.6,1818.8 1874.6,1820.5 1878.5,1822.3 1882.6,1824.0 1886.6,1825.6 1890.7,1827.3 1894.8,1828.9 1899.0,1830.4 1903.2,1832.0 1907.4,1833.5 1911.6,1835.1 1915.7,1836.5 1919.9,1838.0 1924.0,1839.3 1928.0,1840.6 1932.1,1841.9 1936.1,1843.1 1940.1,1844.4 1944.1,1845.6 1948.2,1846.8 1952.2,1848.1 1956.2,1849.3 1960.2,1850.5 1964.3,1851.7 1968.3,1852.9 1972.3,1854.1 1976.3,1855.3 1980.3,1856.4 1984.4,1857.6 1988.4,1858.7 1992.4,1859.9 1996.4,1861.0 2000.4,1862.2 2004.5,1863.3 2008.5,1864.5 2012.5,1865.6 2016.5,1866.6 2020.5,1867.6 2024.6,1868.6 2028.6,1869.5 2032.6,1870.4 2036.6,1871.3 2040.7,1872.2 2044.7,1873.2 2048.7,1874.1 2052.7,1875.0 2056.8,1875.9 2060.8,1876.7 2064.8,1877.5 2068.8,1878.3 2072.9,1879.1 2076.9,1879.8 2080.9,1880.5 2084.9,1881.2 2088.9,1881.9 2093.0,1882.6 2097.0,1883.3 2101.0,1884.0 2105.0,1884.7 2109.1,1885.4 2113.1,1886.0 2117.1,1886.7 2121.1,1887.3 2125.1,1887.9 2129.2,1888.5 2133.2,1889.1 2137.2,1889.7 2141.2,1890.4 2145.2,1891.0 2149.3,1891.6 2153.3,1892.2 2157.3,1892.8 2161.3,1893.3 2165.3,1893.9 2169.4,1894.4 2173.4,1894.9 2177.4,1895.4 2181.4,1895.9 2185.4,1896.4 2189.5,1896.9 2193.5,1897.4 2197.5,1897.9 2201.5,1898.4 2205.6,1898.9 2209.6,1899.3 2213.6,1899.8 2217.6,1900.2 2221.6,1900.6 2225.7,1901.0 2229.7,1901.4 2233.7,1901.8 2237.7,1902.2 2241.7,1902.6 2245.8,1903.0 2249.8,1903.4 2253.8,1903.8 2257.8,1904.1 2261.8,1904.5 2265.9,1904.8 2269.9,1905.1 2273.9,1905.4 2277.9,1905.7 2282.0,1906.0 2286.0,1906.3 2290.0,1906.6 2294.0,1906.9 2298.1,1907.2 2302.1,1907.5 2306.1,1907.7 2310.1,1908.0 2314.2,1908.2 2318.2,1908.4 2322.2,1908.6 2326.2,1908.8 2330.3,1909.0 2334.3,1909.2 2338.3,1909.4 2342.3,1909.6 2346.4,1909.8 2350.5,1910.0 2354.6,1910.2 2358.8,1910.3 2363.1,1910.5 2367.4,1910.7 2371.7,1910.8 2376.0,1911.0 2380.4,1911.2 2384.7,1911.3 2389.0,1911.5" fill="none" stroke="#d8424a" stroke-width="6" stroke-linejoin="round"/>
<polyline points="1619.8,1465.2 1622.2,1458.7 1624.5,1445.0 1626.9,1439.9 1629.2,1426.0 1631.6,1412.0 1633.9,1402.5 1636.3,1384.8 1638.6,1370.2 1641.0,1357.6 1643.4,1345.5 1645.7,1332.6 1648.1,1323.7 1650.4,1310.4 1652.8,1302.3 1655.1,1292.8 1657.5,1282.4 1659.8,1275.1 1662.2,1268.3 1664.5,1264.7 1666.9,1258.8 1669.3,1253.4 1671.6,1249.5 1674.0,1241.8 1676.3,1239.7 1678.7,1235.1 1681.0,1230.3 1683.4,1221.0 1685.7,1215.9 1688.1,1206.6 1690.5,1204.2 1692.8,1195.9 1695.2,1193.3 1697.5,1194.6 1699.9,1183.7 1702.2,1186.5 1704.6,1182.5 1706.9,1178.6 1709.3,1178.1 1711.6,1176.6 1714.0,1176.6 1716.4,1173.2 1718.7,1172.2 1721.1,1172.1 1723.4,1171.3 1725.8,1173.3 1728.1,1172.0 1730.5,1176.1 1732.8,1170.3 1735.2,1172.5 1737.6,1173.3 1739.9,1171.5 1742.3,1180.5 1744.6,1172.3 1747.0,1178.1 1749.3,1179.6 1751.7,1187.6 1754.0,1184.7 1756.4,1196.0 1758.7,1197.2 1761.1,1203.3 1763.5,1207.3 1765.8,1215.1 1768.2,1216.4 1770.5,1223.7 1772.9,1229.7 1775.2,1237.9 1777.6,1234.2 1779.9,1248.0 1782.3,1252.4 1784.7,1255.0 1787.0,1262.3 1789.4,1266.5 1791.7,1277.1 1794.1,1280.4 1796.4,1286.0 1798.8,1292.8 1801.1,1301.7 1803.5,1312.4 1805.8,1321.6 1808.2,1338.3 1810.6,1340.0 1812.9,1345.8 1815.3,1362.5 1817.6,1371.8 1820.0,1381.8 1822.3,1389.2 1824.7,1397.8 1827.0,1407.3 1829.4,1417.2 1831.8,1423.3 1834.1,1433.4 1836.5,1448.2 1838.8,1455.2 1841.2,1461.8 1843.5,1478.2 1845.9,1484.5 1848.2,1491.1 1850.6,1499.8 1852.9,1514.2 1855.3,1522.3 1857.7,1529.6 1860.0,1536.2 1862.4,1545.0 1864.7,1555.5 1867.1,1559.3 1869.4,1564.1 1871.8,1575.6 1874.1,1581.4 1876.5,1590.1 1878.9,1598.0 1881.2,1602.2 1883.6,1609.3 1885.9,1616.1 1888.3,1620.3 1890.6,1630.5 1893.0,1638.4 1895.3,1642.4 1897.7,1648.1 1900.0,1654.5 1902.4,1660.0 1904.8,1666.4 1907.1,1673.7 1909.5,1679.2 1911.8,1686.4 1914.2,1690.2 1916.5,1700.2 1918.9,1705.5 1921.2,1708.9 1923.6,1712.2 1926.0,1722.4 1928.3,1730.1 1930.7,1731.5 1933.0,1736.6 1935.4,1740.5 1937.7,1746.9 1940.1,1747.4 1942.4,1755.2 1944.8,1756.3 1947.1,1762.6 1949.5,1764.5 1951.9,1767.7 1954.2,1768.8 1956.6,1774.0 1958.9,1778.3 1961.3,1783.6 1963.6,1786.0 1966.0,1787.3 1968.3,1793.0 1970.7,1797.7 1973.1,1798.8 1975.4,1801.8 1977.8,1805.4 1980.1,1811.4 1982.5,1813.9 1984.8,1813.6 1987.2,1818.9 1989.5,1819.5 1991.9,1821.2 1994.2,1827.7 1996.6,1828.9 1999.0,1827.7 2001.3,1831.3 2003.7,1834.2 2006.0,1833.8 2008.4,1837.0 2010.7,1840.8 2013.1,1837.9 2015.4,1844.6 2017.8,1847.8 2020.2,1849.7 2022.5,1848.1 2024.9,1853.7 2027.2,1853.4 2029.6,1858.4 2031.9,1860.5 2034.3,1861.7 2036.6,1861.7 2039.0,1864.0 2041.3,1868.9 2043.7,1867.0 2046.1,1871.7 2048.4,1873.4 2050.8,1873.5 2053.1,1880.8 2055.5,1877.6 2057.8,1883.6 2060.2,1876.6 2062.5,1877.8 2064.9,1886.2 2067.3,1887.1 2069.6,1886.8 2072.0,1888.9 2074.3,1886.5 2076.7,1890.5 2079.0,1890.8 2081.4,1893.7 2083.7,1897.1 2086.1,1896.5 2088.4,1898.3 2088.9,1897.7 2092.0,1897.5 2389.3,1896.5" fill="none" stroke="#1f66cc" stroke-width="6.5" stroke-linejoin="round" stroke-linecap="round"/>
</g>
<rect x="1447.20" y="1094.40" width="942.10" height="815.90" fill="none" stroke="#3a3a3a" stroke-width="3.3"/>
<line x1="1432.2" x2="1447.2" y1="1169.60" y2="1169.60" stroke="#3a3a3a" stroke-width="3.3"/>
<line x1="2389.3" x2="2404.3" y1="1169.60" y2="1169.60" stroke="#3a3a3a" stroke-width="3.3"/>
<line x1="1439.2" x2="1447.2" y1="1245.55" y2="1245.55" stroke="#3a3a3a" stroke-width="3.3"/>
<line x1="1432.2" x2="1447.2" y1="1321.50" y2="1321.50" stroke="#3a3a3a" stroke-width="3.3"/>
<line x1="2389.3" x2="2404.3" y1="1321.50" y2="1321.50" stroke="#3a3a3a" stroke-width="3.3"/>
<line x1="1439.2" x2="1447.2" y1="1397.45" y2="1397.45" stroke="#3a3a3a" stroke-width="3.3"/>
<line x1="1432.2" x2="1447.2" y1="1473.40" y2="1473.40" stroke="#3a3a3a" stroke-width="3.3"/>
<line x1="2389.3" x2="2404.3" y1="1473.40" y2="1473.40" stroke="#3a3a3a" stroke-width="3.3"/>
<line x1="1439.2" x2="1447.2" y1="1549.35" y2="1549.35" stroke="#3a3a3a" stroke-width="3.3"/>
<line x1="1432.2" x2="1447.2" y1="1625.30" y2="1625.30" stroke="#3a3a3a" stroke-width="3.3"/>
<line x1="2389.3" x2="2404.3" y1="1625.30" y2="1625.30" stroke="#3a3a3a" stroke-width="3.3"/>
<line x1="1439.2" x2="1447.2" y1="1701.25" y2="1701.25" stroke="#3a3a3a" stroke-width="3.3"/>
<line x1="1432.2" x2="1447.2" y1="1777.20" y2="1777.20" stroke="#3a3a3a" stroke-width="3.3"/>
<line x1="2389.3" x2="2404.3" y1="1777.20" y2="1777.20" stroke="#3a3a3a" stroke-width="3.3"/>
<line x1="1439.2" x2="1447.2" y1="1853.15" y2="1853.15" stroke="#3a3a3a" stroke-width="3.3"/>
<line y1="1910.3" y2="1925.3" x1="1447.20" x2="1447.20" stroke="#3a3a3a" stroke-width="3.3"/>
<text transform="matrix(0.4370 0.0000 0.0000 0.4630 1410.9290 1973.9100)" font-size="100" font-weight="bold" fill="#000">200</text>
<line y1="1910.3" y2="1918.3" x1="1564.96" x2="1564.96" stroke="#3a3a3a" stroke-width="3.3"/>
<line y1="1910.3" y2="1925.3" x1="1682.73" x2="1682.73" stroke="#3a3a3a" stroke-width="3.3"/>
<text transform="matrix(0.4370 0.0000 0.0000 0.4630 1646.6725 1973.9100)" font-size="100" font-weight="bold" fill="#000">300</text>
<line y1="1910.3" y2="1918.3" x1="1800.49" x2="1800.49" stroke="#3a3a3a" stroke-width="3.3"/>
<line y1="1910.3" y2="1925.3" x1="1918.25" x2="1918.25" stroke="#3a3a3a" stroke-width="3.3"/>
<text transform="matrix(0.4370 0.0000 0.0000 0.4630 1882.4160 1973.9100)" font-size="100" font-weight="bold" fill="#000">400</text>
<line y1="1910.3" y2="1918.3" x1="2036.01" x2="2036.01" stroke="#3a3a3a" stroke-width="3.3"/>
<line y1="1910.3" y2="1925.3" x1="2153.78" x2="2153.78" stroke="#3a3a3a" stroke-width="3.3"/>
<text transform="matrix(0.4370 0.0000 0.0000 0.4630 2117.6132 1973.9100)" font-size="100" font-weight="bold" fill="#000">500</text>
<line y1="1910.3" y2="1918.3" x1="2271.54" x2="2271.54" stroke="#3a3a3a" stroke-width="3.3"/>
<line y1="1910.3" y2="1925.3" x1="2389.30" x2="2389.30" stroke="#3a3a3a" stroke-width="3.3"/>
<text transform="matrix(0.4370 0.0000 0.0000 0.4630 2353.0290 1973.9100)" font-size="100" font-weight="bold" fill="#000">600</text>
<text transform="matrix(0.4600 0.0000 0.0000 0.4695 1360.4400 1163.8401)" font-size="100" font-weight="normal" fill="#000" stroke="#000" stroke-width="2.2">(d)</text>
<text transform="matrix(0.4304 0.0000 0.0000 0.4725 1729.2022 1149.1000)" font-size="100" font-weight="bold" fill="#000">Ex</text>
<text transform="matrix(0.4441 0.0000 0.0000 0.4725 1997.9136 1147.9000)" font-size="100" font-weight="bold" fill="#000">Em</text>
<text transform="matrix(0.4367 0.0000 0.0000 0.4503 1592.1082 1700.3497)" font-size="100" font-weight="bold" fill="#000">Abs</text>
<text transform="matrix(0.0000 -0.4603 0.4385 0.0000 1392.7914 1675.1507)" font-size="100" font-weight="bold" fill="#000">Absorbance (a.u.)</text>
<text transform="matrix(0.0000 0.4675 -0.4492 0.0000 2435.9332 1163.9612)" font-size="100" font-weight="bold" fill="#000">Fluorescence Intensity (a.u.)</text>
<text transform="matrix(0.4718 0.0000 0.0000 0.4866 1730.2000 2051.9807)" font-size="100" font-weight="bold" fill="#000">Wavelength (nm)</text>
</svg>
</body>
</html>
